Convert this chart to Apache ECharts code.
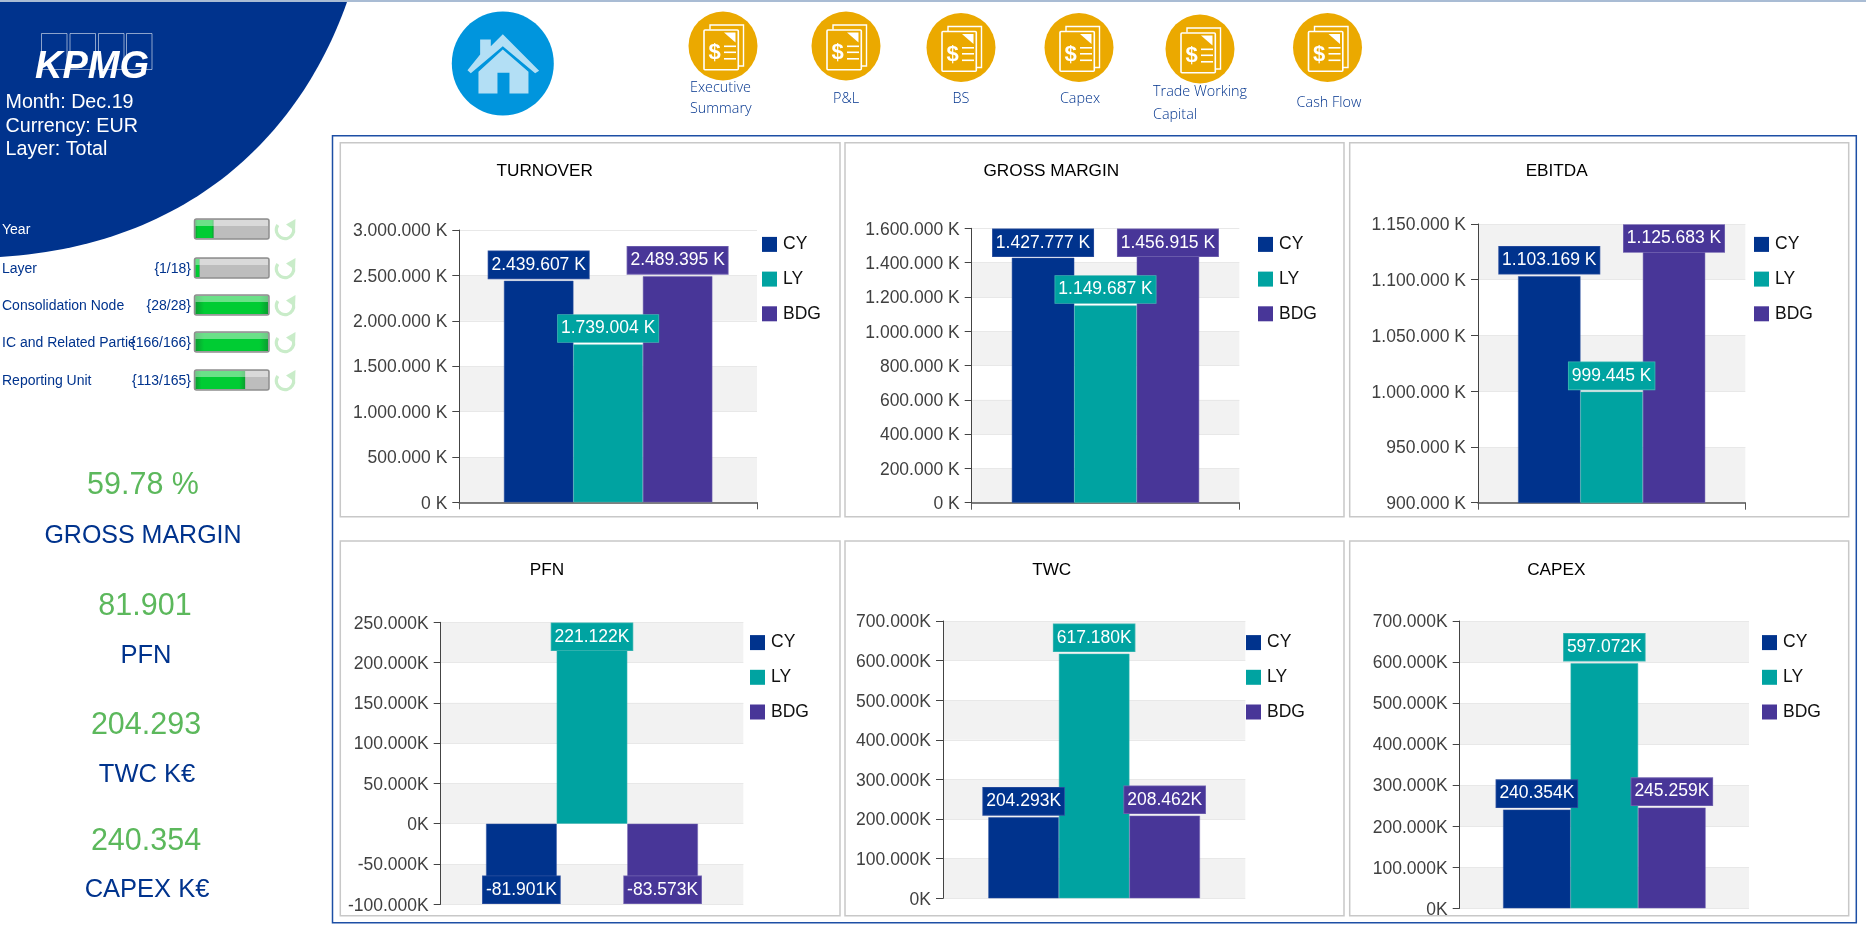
<!DOCTYPE html>
<html>
<head>
<meta charset="utf-8">
<title>KPMG Dashboard</title>
<style>html,body{margin:0;padding:0;background:#fff;overflow:hidden}#c{width:1866px;height:933px}</style>
<script src="https://cdn.jsdelivr.net/npm/echarts@6/dist/echarts.min.js"></script>
</head>
<body>
<div id="c"></div>
<script>
// ---------- data ----------
const categories = ['Dec.19'];
const chartNames = ['TURNOVER', 'GROSS MARGIN', 'EBITDA', 'PFN', 'TWC', 'CAPEX'];
const seriesNames = ['CY', 'LY', 'BDG'];
const cyValues  = [2439607, 1427777, 1103169, -81901, 204293, 240354];
const lyValues  = [1739004, 1149687, 999445, 221122, 617180, 597072];
const bdgValues = [2489395, 1456915, 1125683, -83573, 208462, 245259];
const axisMin  = [0, 0, 900000, -100000, 0, 0];
const axisMax  = [3000000, 1600000, 1150000, 250000, 700000, 700000];
const axisStep = [500000, 200000, 50000, 50000, 100000, 100000];
const unitSuffix = [' K', ' K', ' K', 'K', 'K', 'K'];
const filterNames  = ['Year', 'Layer', 'Consolidation Node', 'IC and Related Partie', 'Reporting Unit'];
const filterCounts = ['', '{1/18}', '{28/28}', '{166/166}', '{113/165}'];
const filterShares = [0.25, 0.056, 1, 1, 0.685];
const kpiValues = ['59.78 %', '81.901', '204.293', '240.354'];
const kpiNames  = ['GROSS MARGIN', 'PFN', 'TWC K€', 'CAPEX K€'];
const headerLines = ['Month: Dec.19', 'Currency: EUR', 'Layer: Total'];
const navLabels = [['Executive', 'Summary'], ['P&L'], ['BS'], ['Capex'], ['Trade Working', 'Capital'], ['Cash Flow']];

// ---------- layout ----------
const FONT = '"Liberation Sans", Arial, sans-serif';
const NAV_FONT = '"Open Sans", sans-serif';
const NAVY = '#00338D', TEAL = '#00A3A1', PURPLE = '#483698';
const seriesColors = [NAVY, TEAL, PURPLE];
const edgeColors = ['#2f52a0', '#3fb6b3', '#7567b2'];
const panels = [
  [340.3, 142.7, 499.7, 374], [845, 142.7, 499, 374], [1349.7, 142.7, 499, 374],
  [340.3, 541, 499.7, 374.7], [845, 541, 499, 374.7], [1349.7, 541, 499, 374.7]
];
const gridBoxes = [
  {left: 459.3, right: 757, top: 230, bottom: 502.3},
  {left: 971.7, right: 1239.3, top: 228.3, bottom: 502.7},
  {left: 1478, right: 1745.3, top: 224, bottom: 502.7},
  {left: 440.7, right: 743.3, top: 622.3, bottom: 904.3},
  {left: 943, right: 1245.3, top: 621, bottom: 898.3},
  {left: 1459.7, right: 1749, top: 621, bottom: 908.3}
];
const legendPos = [[762, 235.4], [1258, 235.4], [1754, 235.4], [750, 633.6], [1246, 633.6], [1762, 633.6]];
const titlePos = [[544.7, 163], [1051.3, 163], [1556.7, 163], [547, 561.5], [1051.7, 561.5], [1556.3, 561.5]];

function fmt(v, suffix) {
  const s = Math.abs(v).toString().replace(/\B(?=(\d{3})+(?!\d))/g, '.');
  return (v < 0 ? '-' : '') + s + suffix;
}
// keep a value label inside the plot area, the way the original charts do
const LABEL_H = 28, LABEL_GAP = 2.5;
function labelFor(i, v) {
  const g = gridBoxes[i];
  const scale = (g.bottom - g.top) / (axisMax[i] - axisMin[i]);
  const end = g.bottom - (v - axisMin[i]) * scale;
  if (v >= 0) {
    const top = end - LABEL_GAP - LABEL_H;
    return {position: 'top', distance: LABEL_GAP, offset: [0, Math.max(0, g.top - top)]};
  }
  const bot = end + LABEL_GAP + LABEL_H;
  return {position: 'bottom', distance: LABEL_GAP, offset: [0, Math.min(0, g.bottom - bot)]};
}

const grid = [], xAxis = [], yAxis = [], legend = [], title = [], series = [];
chartNames.forEach((name, i) => {
  const g = gridBoxes[i];
  grid.push({left: g.left, top: g.top, width: g.right - g.left, height: g.bottom - g.top, containLabel: false});
  const showX = i < 3;
  xAxis.push({
    type: 'category', gridIndex: i, data: categories,
    axisLabel: {show: false},
    axisLine: {show: showX, onZero: false, lineStyle: {color: '#555', width: 1.5}},
    axisTick: {show: showX, length: 7, lineStyle: {color: '#555'}},
    splitLine: {show: false}
  });
  yAxis.push({
    type: 'value', gridIndex: i, min: axisMin[i], max: axisMax[i], interval: axisStep[i],
    axisLine: {show: true, lineStyle: {color: '#444', width: 1}},
    axisTick: {show: true, length: 7, lineStyle: {color: '#444'}},
    axisLabel: {
      margin: 12, fontFamily: FONT, fontSize: 17.5, color: '#404040',
      formatter: v => '{t|' + fmt(v, unitSuffix[i]) + '}',
      rich: {t: {fontFamily: FONT, fontSize: 17.5, color: '#404040', padding: [3, 0, 0, 0]}}
    },
    splitLine: {show: true, lineStyle: {color: '#e8e8e8', width: 1}},
    splitArea: {show: true, areaStyle: {color: ['#f2f2f2', 'rgba(255,255,255,0)']}}
  });
  legend.push({
    left: legendPos[i][0], top: legendPos[i][1], orient: 'vertical', padding: 0,
    data: seriesNames, icon: 'rect', itemWidth: 15, itemHeight: 15, itemGap: 16.7,
    selectedMode: false, itemStyle: {borderWidth: 0},
    textStyle: {fontFamily: FONT, fontSize: 17.5, color: '#111', padding: [0, 0, 0, 1]}
  });
  title.push({
    text: name, left: titlePos[i][0], top: titlePos[i][1], textAlign: 'center', padding: 0,
    textStyle: {fontFamily: FONT, fontSize: 17.2, fontWeight: 'normal', color: '#000'}
  });
  [cyValues, lyValues, bdgValues].forEach((vals, k) => {
    const v = vals[i];
    series.push({
      type: 'bar', name: seriesNames[k], xAxisIndex: i, yAxisIndex: i,
      barGap: '0%', barCategoryGap: '30%',
      itemStyle: {color: seriesColors[k], borderColor: edgeColors[k], borderWidth: 0.5},
      data: [{value: v, label: labelFor(i, v)}],
      label: {
        show: true, fontFamily: FONT, fontSize: 17.5, color: '#fff', lineHeight: 20,
        backgroundColor: seriesColors[k], borderColor: edgeColors[k], borderWidth: 0.8,
        padding: [3.5, 3], formatter: () => fmt(v, unitSuffix[i])
      },
      emphasis: {disabled: true}
    });
  });
});

// ---------- page furniture (header, filters, KPIs, navigation) ----------
const graphic = [];
function txt(text, x, y, fontSize, fill, opt) {
  return {type: 'text', silent: true, style: Object.assign({
    text, x, y, fill, fontSize, fontFamily: FONT, verticalAlign: 'middle', align: 'left'
  }, opt || {})};
}
// page top line and outer frame
graphic.push({type: 'rect', z: -20, silent: true, shape: {x: 0, y: 0, width: 1866, height: 2}, style: {fill: '#a9bcd4'}});
graphic.push({type: 'rect', z: -20, silent: true, shape: {x: 332.5, y: 135.7, width: 1523.8, height: 787}, style: {fill: '#fff', stroke: '#1d4fa5', lineWidth: 1.5}});
panels.forEach(p => graphic.push({type: 'rect', z: -15, silent: true, shape: {x: p[0], y: p[1], width: p[2], height: p[3]}, style: {fill: '#fff', stroke: '#c8c8c8', lineWidth: 1.5}}));

// header blue shape: corner plus a cubic edge traced as a polygon
function cubicEdge(p0, p1, p2, p3, n) {
  const out = [];
  for (let s = 0; s <= n; s++) {
    const t = s / n, u = 1 - t;
    out.push([0, 1].map(a => u*u*u*p0[a] + 3*u*u*t*p1[a] + 3*u*t*t*p2[a] + t*t*t*p3[a]));
  }
  return out;
}
graphic.push({type: 'polygon', z: -10, silent: true,
  shape: {points: [[0, 2]].concat(cubicEdge([347, 2], [300, 135], [190, 245], [0, 257], 60))},
  style: {fill: NAVY}});
[41.5, 70, 98.5, 126.5].forEach(x => graphic.push({type: 'rect', silent: true, shape: {x, y: 33.5, width: 25.5, height: 36}, style: {fill: 'none', stroke: 'rgba(255,255,255,0.55)', lineWidth: 1}}));
graphic.push(txt('KPMG', 35, 68, 38, '#fff', {fontWeight: 'bold', fontStyle: 'italic'}));
headerLines.forEach((t, i) => graphic.push(txt(t, 5.5, 103 + i * 23.3, 19.7, '#fff')));

// filter rows
const rowY = [229, 268, 305, 342, 380];
filterNames.forEach((n, i) => {
  const y = rowY[i], x = 194.5, w = 74.5, h = 20, top = y - 10;
  graphic.push(txt(n, 2, y + 1.5, 14, i === 0 ? '#fff' : NAVY));
  if (filterCounts[i]) graphic.push(txt(filterCounts[i], 191, y + 1.5, 14, NAVY, {align: 'right'}));
  graphic.push({type: 'rect', silent: true, shape: {x, y: top, width: w, height: h, r: 2}, style: {fill: '#bdbdbd', stroke: '#8e8e8e', lineWidth: 1.5}});
  graphic.push({type: 'rect', silent: true, shape: {x: x + 1, y: top + 1, width: (w - 2) * filterShares[i], height: h - 2}, style: {
    fill: {type: 'linear', x: 0, y: 0, x2: 1, y2: 0, colorStops: [{offset: 0, color: '#0a9e30'}, {offset: 0.12, color: '#00cc33'}, {offset: 0.88, color: '#00cc33'}, {offset: 1, color: '#0a9e30'}]}
  }});
  graphic.push({type: 'rect', silent: true, shape: {x: x + 1, y: top + 1, width: w - 2, height: 6}, style: {fill: 'rgba(255,255,255,0.42)'}});
  // refresh icon
  graphic.push({type: 'arc', silent: true, shape: {cx: 285, cy: y + 1, r: 8.7, startAngle: -0.25, endAngle: 3.75, clockwise: true}, style: {fill: 'none', stroke: '#c9ecc9', lineWidth: 3.2}});
  graphic.push({type: 'polygon', silent: true, shape: {points: [[286, y - 4.5], [295.5, y - 10], [295, y + 2]]}, style: {fill: '#c9ecc9'}});
});

// KPIs
const kpiValY = [486, 607, 726, 842], kpiNameY = [536.5, 655.5, 774.5, 889.5], kpiX = [143, 145, 146, 146];
kpiValues.forEach((t, i) => {
  graphic.push(txt(t, kpiX[i], kpiValY[i], 30.5, '#5cb85c', {align: 'center'}));
  graphic.push(txt(kpiNames[i], kpiX[i] + (i ? 1 : 0), kpiNameY[i], i ? 25.5 : 25, NAVY, {align: 'center'}));
});

// home icon
const hc = [502.8, 63.5];
const rel = pts => pts.map(p => [(p[0] - 158) / 3, (p[1] - 160) / 3]);
graphic.push({type: 'group', x: hc[0], y: hc[1], silent: true, children: [
  {type: 'ellipse', shape: {cx: 0, cy: 0, rx: 51, ry: 52}, style: {fill: '#0095DD'}},
  {type: 'polygon', shape: {points: rel([[158, 72], [122, 108], [122, 88], [90, 88], [90, 133], [52, 180], [62, 189], [158, 108], [255, 189], [267, 182]])}, style: {fill: '#B3DFF5'}},
  {type: 'polygon', shape: {points: rel([[158, 118], [235, 185], [235, 250], [178, 250], [178, 188], [142, 188], [142, 250], [85, 250], [85, 185]])}, style: {fill: '#B3DFF5'}}
]});

// navigation icons
const navCenters = [[723, 46], [846, 46], [961, 47.5], [1079, 47.5], [1200, 49], [1327.5, 47.5]];
const navTextX = [690, 846, 961, 1080, 1153, 1329];
const navTextY = [[88, 109], [99], [99], [99], [91.5, 114.5], [103]];
navCenters.forEach((c, i) => {
  graphic.push({type: 'group', x: c[0], y: c[1], silent: true, children: [
    {type: 'circle', shape: {cx: 0, cy: 0, r: 34.5}, style: {fill: '#EBA900'}},
    {type: 'polyline', shape: {points: [[-13, -16.5], [-13, -21], [20.5, -21], [20.5, 20], [15.5, 20]]}, style: {fill: 'none', stroke: '#fff', lineWidth: 1.4}},
    {type: 'rect', shape: {x: -19, y: -16, width: 34.3, height: 39.8, r: 1}, style: {fill: 'none', stroke: '#fff', lineWidth: 1.6}},
    {type: 'polygon', shape: {points: [[1, -13.5], [12.5, -13.5], [12.5, -3.5]]}, style: {fill: '#fff'}},
    {type: 'text', style: {text: '$', x: -8.5, y: 7, align: 'center', verticalAlign: 'middle', fill: '#fff', fontFamily: FONT, fontWeight: 'bold', fontSize: 22}},
    {type: 'rect', shape: {x: 1, y: -0.5, width: 12, height: 1.6}, style: {fill: '#fff'}},
    {type: 'rect', shape: {x: 1, y: 5.5, width: 12, height: 1.6}, style: {fill: '#fff'}},
    {type: 'rect', shape: {x: 1, y: 12, width: 12, height: 1.6}, style: {fill: '#fff'}}
  ]});
  navLabels[i].forEach((t, k) => {
    const multi = navLabels[i].length > 1;
    graphic.push(txt(t, navTextX[i], navTextY[i][k], 14.4, NAVY, {fontFamily: NAV_FONT, fontWeight: 300, align: multi ? 'left' : 'center'}));
  });
});

const chart = echarts.init(document.getElementById('c'), null, {width: 1866, height: 933, renderer: 'canvas'});
chart.setOption({
  animation: false, backgroundColor: '#fff',
  title, grid, xAxis, yAxis, legend, series, graphic
});
</script>
</body>
</html>
